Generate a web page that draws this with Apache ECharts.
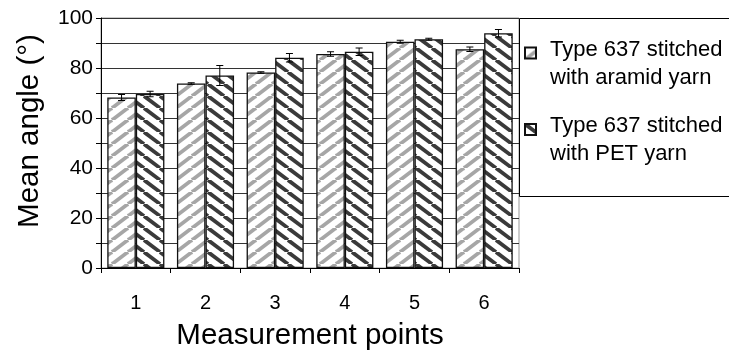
<!DOCTYPE html>
<html>
<head>
<meta charset="utf-8">
<script src="https://cdn.jsdelivr.net/npm/echarts@6/dist/echarts.min.js"></script>
<style>
html,body{margin:0;padding:0;background:#fff;}
#chart{width:729px;height:351px;}
</style>
</head>
<body>
<div id="chart"></div>
<script>
// ---- data ----
const categories = ['1', '2', '3', '4', '5', '6'];
const seriesNames = ['Type 637 stitched with aramid yarn', 'Type 637 stitched with PET yarn'];
const legendLines = [['Type 637 stitched', 'with aramid yarn'], ['Type 637 stitched', 'with PET yarn']];
const aramidValues = [68.2, 73.8, 78.2, 85.6, 90.5, 87.5];
const aramidErrors = [1.2, 0.3, 0.3, 0.9, 0.6, 0.9];
const petValues = [69.6, 77.0, 84.1, 86.5, 91.5, 93.9];
const petErrors = [1.1, 4.0, 1.7, 1.5, 0.4, 1.5];
const yTicks = [0, 20, 40, 60, 80, 100];

// ---- patterns ----
function makePattern(color, up) {
  const W = 16, H = 12;
  const c = document.createElement('canvas');
  c.width = W; c.height = H;
  const ctx = c.getContext('2d');
  ctx.fillStyle = '#fff';
  ctx.fillRect(0, 0, W, H);
  ctx.strokeStyle = color;
  ctx.lineWidth = 3.8;
  for (let k = -1; k <= 1; k++) {
    ctx.beginPath();
    if (up) { ctx.moveTo(k * W, H); ctx.lineTo(k * W + W, 0); }
    else { ctx.moveTo(k * W, 0); ctx.lineTo(k * W + W, H); }
    ctx.stroke();
  }
  return { image: c, repeat: 'repeat' };
}
const aramidFill = makePattern('#a6a6a6', true);
const petFill = makePattern('#3a3a3a', false);

const CAT_GAP = 0.18;
function errorSeries(values, errors, side) {
  return {
    type: 'custom',
    z: 5,
    silent: true,
    data: values.map((v, i) => [i, v, errors[i]]),
    renderItem: function (params, api) {
      const band = api.size([1, 0])[0];
      const groupW = band * (1 - CAT_GAP);
      const off = side * groupW / 4;
      const center = api.coord([api.value(0), api.value(1)]);
      const x = center[0] + off;
      const hi = api.coord([api.value(0), api.value(1) + api.value(2)])[1];
      const lo = api.coord([api.value(0), api.value(1) - api.value(2)])[1];
      const cw = 3.5;
      const st = { stroke: '#000', lineWidth: 1 };
      return {
        type: 'group',
        children: [
          { type: 'line', shape: { x1: x, y1: hi, x2: x, y2: lo }, style: st },
          { type: 'line', shape: { x1: x - cw, y1: hi, x2: x + cw, y2: hi }, style: st },
          { type: 'line', shape: { x1: x - cw, y1: lo, x2: x + cw, y2: lo }, style: st }
        ]
      };
    }
  };
}

const chart = echarts.init(document.getElementById('chart'));
chart.setOption({
  animation: false,
  backgroundColor: '#fff',
  textStyle: { fontFamily: 'Liberation Sans, Arial, sans-serif', color: '#000' },
  grid: {
    left: 101, right: 210, top: 18, bottom: 83,
    outerBoundsMode: 'none',
    containLabel: false,
    show: true, borderColor: '#999', borderWidth: 1, backgroundColor: 'transparent'
  },
  graphic: [{
    type: 'rect', z: 3,
    shape: { x: 519.5, y: 18.5, width: 300, height: 178 },
    style: { fill: '#fff', stroke: '#000', lineWidth: 1 }
  }],
  legend: {
    orient: 'vertical',
    left: 524, top: 14,
    z: 10,
    data: seriesNames,
    padding: 0,
    itemWidth: 11, itemHeight: 11,
    itemGap: 2,
    icon: 'rect',
    formatter: function (name) {
      const lines = legendLines[seriesNames.indexOf(name)];
      return '{sp|}\n{t|' + lines[0] + '}\n{t|' + lines[1] + '}';
    },
    textStyle: {
      fontSize: 22, color: '#000',
      fontFamily: 'Liberation Sans, Arial, sans-serif',
      rich: {
        sp: { height: 21, lineHeight: 21 },
        t: { fontSize: 22, lineHeight: 28, padding: [0, 0, 0, 9], color: '#000',
             fontFamily: 'Liberation Sans, Arial, sans-serif' }
      }
    }
  },
  xAxis: {
    type: 'category',
    data: categories,
    name: 'Measurement points',
    nameLocation: 'middle',
    nameGap: 53,
    nameTextStyle: { fontSize: 29.5, color: '#000' },
    axisLine: { lineStyle: { color: '#000', width: 1 } },
    axisTick: { show: true, length: 5, lineStyle: { color: '#000' } },
    axisLabel: { fontSize: 20, color: '#000', margin: 25 }
  },
  yAxis: {
    type: 'value',
    min: 0, max: 100, interval: 10,
    name: 'Mean angle (°)',
    nameLocation: 'middle',
    nameGap: 56,
    nameTextStyle: { fontSize: 29.5, color: '#000', padding: [0, 0, 0, 24] },
    axisLine: { show: true, lineStyle: { color: '#000', width: 1 } },
    axisTick: { show: true, length: 5, lineStyle: { color: '#000' } },
    axisLabel: {
      fontSize: 21, color: '#000', margin: 8,
      formatter: v => (yTicks.indexOf(v) >= 0 ? String(v) : '')
    },
    splitLine: { show: true, lineStyle: { color: '#333', width: 1 } }
  },
  series: [
    {
      name: seriesNames[0], type: 'bar', data: aramidValues,
      barGap: '0%', barCategoryGap: (CAT_GAP * 100) + '%',
      itemStyle: { color: aramidFill, borderColor: '#111', borderWidth: 1.3 }
    },
    {
      name: seriesNames[1], type: 'bar', data: petValues,
      barGap: '0%', barCategoryGap: (CAT_GAP * 100) + '%',
      itemStyle: { color: petFill, borderColor: '#111', borderWidth: 1.3 }
    },
    errorSeries(aramidValues, aramidErrors, -1),
    errorSeries(petValues, petErrors, 1)
  ]
});
</script>
</body>
</html>
